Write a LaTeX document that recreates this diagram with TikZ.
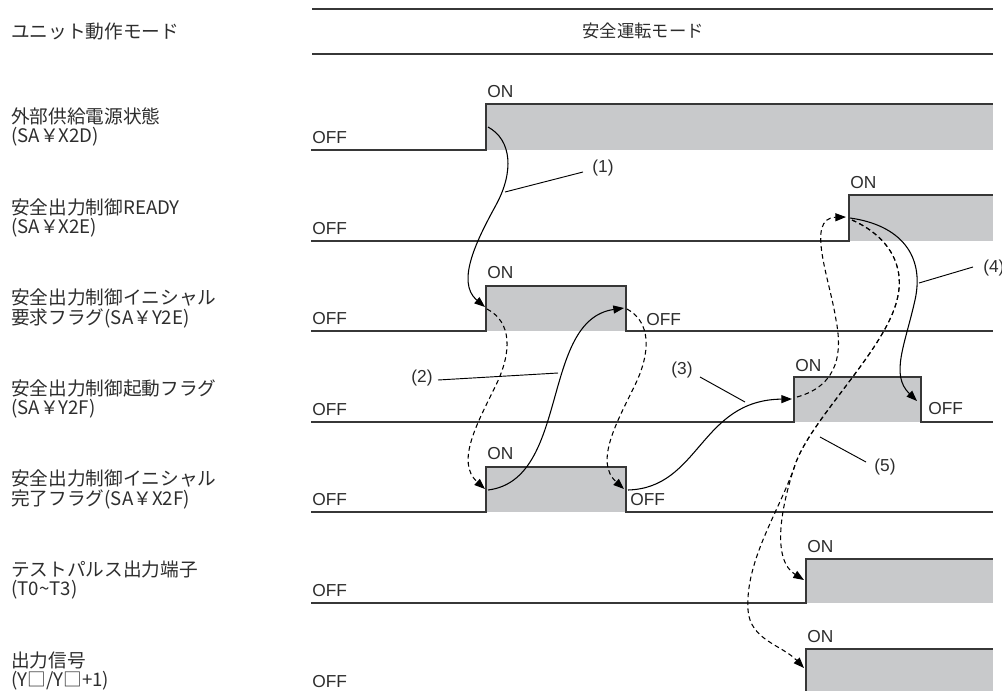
\documentclass[tikz,border=0pt]{standalone}
\usepackage{fontspec}
\setmainfont{Liberation Sans}
\newfontfamily\jp{Noto Sans CJK JP}
\usetikzlibrary{arrows.meta}
\definecolor{ongray}{RGB}{200,201,203}
\definecolor{sigline}{RGB}{55,55,55}
\definecolor{txt}{RGB}{45,45,45}
\begin{document}
\begin{tikzpicture}[x=0.75pt,y=-0.75pt,
  sig/.style={draw=sigline,line width=1.1pt},
  onfill/.style={fill=ongray},
  lbl/.style={font=\jp\fontsize{14}{16}\selectfont,text=txt,anchor=west,inner sep=0},
  st/.style={font=\fontsize{13}{15}\selectfont,text=txt,inner sep=0},
  conn/.style={line width=0.8pt,-{Triangle[length=8pt,width=6pt]}},
  dconn/.style={conn,dash pattern=on 3.5pt off 2.5pt},
  lead/.style={line width=0.7pt},
  modeline/.style={draw=sigline,line width=1.1pt}]
\useasboundingbox (0,0) rectangle (1002,690);
% mode row
\draw[modeline] (312,9) -- (993,9);
\draw[modeline] (312,54) -- (993,54);
\node[lbl] (m0) at (11,31) {ユニット動作モード};
\node[lbl,anchor=center,font=\jp\fontsize{13}{15}\selectfont] (m1) at (643,31) {安全運転モード};
% left labels
\node[lbl] (a1) at (11,116) {外部供給電源状態};
\node[lbl] (b1) at (11,137) {(SA￥X2D)};
\node[lbl] (a2) at (11,207) {安全出力制御READY};
\node[lbl] (b2) at (11,228) {(SA￥X2E)};
\node[lbl] (a3) at (11,297) {安全出力制御イニシャル};
\node[lbl] (b3) at (11,318) {要求フラグ(SA￥Y2E)};
\node[lbl] (a4) at (11,388) {安全出力制御起動フラグ};
\node[lbl] (b4) at (11,409) {(SA￥Y2F)};
\node[lbl] (a5) at (11,478) {安全出力制御イニシャル};
\node[lbl] (b5) at (11,499) {完了フラグ(SA￥X2F)};
\node[lbl] (a6) at (11,569) {テストパルス出力端子};
\node[lbl] (b6) at (11,590) {(T0\textasciitilde T3)};
\node[lbl] (a7) at (11,660) {出力信号};
\node[lbl] (b7) at (11,681) {(Y□/Y□+1)};
% signals
\fill[onfill] (486,104) rectangle (993,150);
\draw[sig] (311,150) -- (486,150) -- (486,104) -- (993,104);
\fill[onfill] (849,195) rectangle (993,241);
\draw[sig] (311,241) -- (849,241) -- (849,195) -- (993,195);
\fill[onfill] (486,286) rectangle (626,331);
\draw[sig] (311,331) -- (486,331) -- (486,286) -- (626,286) -- (626,331) -- (993,331);
\fill[onfill] (794,377) rectangle (921,422);
\draw[sig] (311,422) -- (794,422) -- (794,377) -- (921,377) -- (921,422) -- (993,422);
\fill[onfill] (486,467) rectangle (626,512);
\draw[sig] (311,512) -- (486,512) -- (486,467) -- (626,467) -- (626,512) -- (993,512);
\fill[onfill] (806,559) rectangle (993,603);
\draw[sig] (311,603) -- (806,603) -- (806,559) -- (993,559);
\fill[onfill] (806,649) rectangle (993,694);
\draw[sig] (311,694) -- (806,694) -- (806,649) -- (993,649);
% OFF labels (left)
\node[st,anchor=west] (o1) at (312,138) {OFF};
\node[st,anchor=west] (o2) at (312,229) {OFF};
\node[st,anchor=west] (o3) at (312,319) {OFF};
\node[st,anchor=west] (o4) at (312,410) {OFF};
\node[st,anchor=west] (o5) at (312,500) {OFF};
\node[st,anchor=west] (o6) at (312,591) {OFF};
\node[st,anchor=west] (o7) at (312,682) {OFF};
% ON labels
\node[st,anchor=west] (n1) at (487,92) {ON};
\node[st,anchor=west] (n2) at (850,183) {ON};
\node[st,anchor=west] (n3) at (487,273) {ON};
\node[st,anchor=west] (n4) at (795,366) {ON};
\node[st,anchor=west] (n5) at (487,454) {ON};
\node[st,anchor=west] (n6) at (807,547) {ON};
\node[st,anchor=west] (n7) at (807,637) {ON};
% OFF after falls
\node[st,anchor=west] (f3) at (646,320) {OFF};
\node[st,anchor=west] (f5) at (630,500) {OFF};
\node[st,anchor=west] (f4) at (928,409) {OFF};
% connector end points
\coordinate (p1s) at (488,127);
\coordinate (p3on) at (485,307);
\coordinate (p3a) at (487,309);
\coordinate (p5on) at (485,489);
\coordinate (p5a) at (488,490);
\coordinate (p3off) at (624,308);
\coordinate (p3b) at (627,309);
\coordinate (p5off) at (624,489);
\coordinate (p5b) at (628,490);
\coordinate (p4on) at (792,399);
\coordinate (p4a) at (797,397);
\coordinate (p2on) at (846,217);
\coordinate (p2a) at (850,218);
\coordinate (p2b) at (852,220);
\coordinate (p4off) at (917,401);
\coordinate (p6on) at (804,580);
\coordinate (p7on) at (804,668);
% (1)
\draw[conn] (p1s) .. controls (512,140) and (514,172) .. (496,205) .. controls (478,238) and (455,282) .. (p3on);
% (2)
\draw[dconn] (p3a) .. controls (512,322) and (512,352) .. (496,385) .. controls (478,422) and (455,462) .. (p5on);
\draw[conn] (p5a) .. controls (570,480) and (540,320) .. (p3off);
\draw[dconn] (p3b) .. controls (651,322) and (651,352) .. (635,385) .. controls (617,422) and (594,462) .. (p5off);
% (3)
\draw[conn] (p5b) .. controls (700,488) and (700,400) .. (p4on);
\draw[dconn] (p4a) .. controls (840,385) and (842,350) .. (836,320) .. controls (830,280) and (805,218) .. (p2on);
% (4)
\draw[conn] (p2a) .. controls (900,225) and (925,255) .. (915,300) .. controls (905,345) and (890,375) .. (p4off);
% (5)
\draw[dconn] (p2b) .. controls (888,236) and (906,265) .. (897,300) .. controls (885,350) and (810,420) .. (795,465) .. controls (780,510) and (772,560) .. (p6on);
\draw[dconn] (p2b) .. controls (888,236) and (906,265) .. (897,300) .. controls (885,350) and (810,420) .. (795,465) .. controls (780,510) and (745,560) .. (748,610) .. controls (750,640) and (782,645) .. (p7on);
% leaders and numbers
\node[st] (t1) at (603,168) {(1)};
\coordinate (q1) at (505,192);
\draw[lead] (q1) -- (583,172);
\node[st] (t2) at (422,378) {(2)};
\coordinate (q2) at (558,373);
\draw[lead] (438,380) -- (q2);
\node[st] (t3) at (682,370) {(3)};
\coordinate (q3) at (745,402);
\draw[lead] (700,377) -- (q3);
\node[st,anchor=west] (t4) at (983,268) {(4)};
\coordinate (q4) at (919,283);
\draw[lead] (q4) -- (973,267);
\node[st] (t5) at (885,467) {(5)};
\coordinate (q5) at (820,437);
\draw[lead] (q5) -- (866,462);
\end{tikzpicture}
\end{document}
